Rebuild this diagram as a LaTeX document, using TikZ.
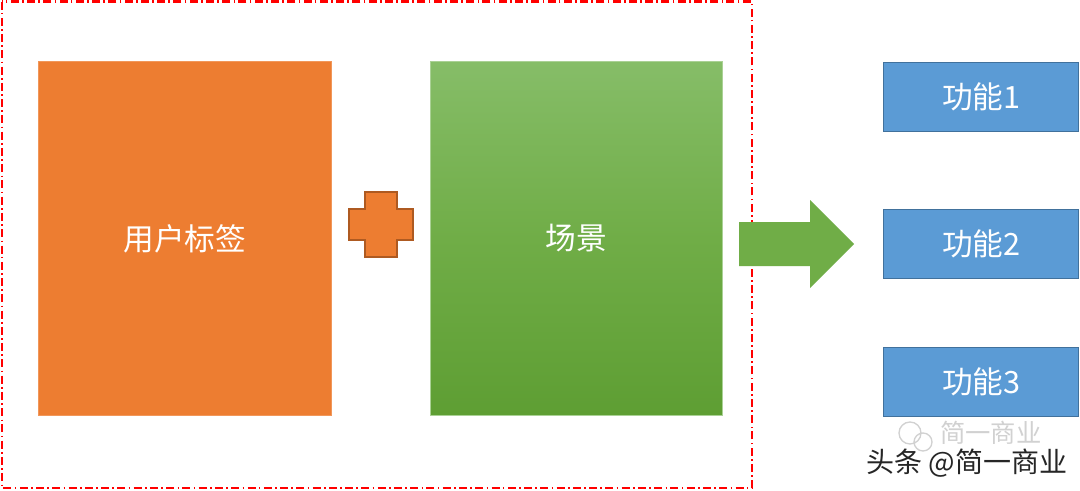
\documentclass[tikz,border=0pt]{standalone}
\usepackage{fontspec}
\newfontfamily\cjk{Noto Sans CJK SC}
\definecolor{orangeF}{HTML}{ED7D31}
\definecolor{orangeD}{HTML}{AE5A21}
\definecolor{greenT}{HTML}{86BD68}
\definecolor{greenM}{HTML}{70AD47}
\definecolor{greenB}{HTML}{5E9E33}
\definecolor{blueF}{HTML}{5B9BD5}
\definecolor{blueD}{HTML}{41719C}
\definecolor{redL}{HTML}{FF0000}
\begin{document}
\begin{tikzpicture}[x=0.75pt,y=-0.75pt,
  lbl/.style={font=\cjk\fontsize{23}{26}\selectfont, text=white},
  fbox/.style={fill=blueF, draw=blueD, line width=1pt, minimum width=146.25pt, minimum height=51.75pt, lbl, anchor=north west, inner sep=0pt}]
\useasboundingbox (0,0) rectangle (1080,490);
\fill[white] (0,0) rectangle (1080,490);
% dashed frame
\draw[redL, line width=1.8pt, dash pattern=on 6pt off 2.5pt on 1.2pt off 2.5pt] (2,1.5) rectangle (752,488);
% orange block
\node[fill=orangeF, draw=orangeF!80!white, line width=0.6pt, minimum width=219.75pt, minimum height=265.5pt, anchor=north west, inner sep=0pt, lbl] (tags) at (38,61) {用户标签};
% green block
\node[top color=greenT, bottom color=greenB, middle color=greenM, draw=greenT!70!white, line width=0.6pt, minimum width=219pt, minimum height=265.5pt, anchor=north west, inner sep=0pt, lbl] (scene) at (430,61) {场景};
% plus
\coordinate (pc) at (381,224.5);
\draw[fill=orangeF, draw=orangeD, line width=1pt]
  (365,192) -- (397,192) -- (397,209) -- (413,209) -- (413,240) -- (397,240) -- (397,257) -- (365,257) -- (365,240) -- (349,240) -- (349,209) -- (365,209) -- cycle;
% arrow
\coordinate (atip) at (854,244);
\fill[greenM] (739,222) -- (810,222) -- (810,200) -- (atip) -- (810,288) -- (810,266) -- (739,266) -- cycle;
% function boxes
\node[fbox] (f1) at (883,62) {功能1};
\node[fbox] (f2) at (883,209) {功能2};
\node[fbox] (f3) at (883,347) {功能3};
% watermark
\node[font=\cjk\fontsize{19}{21}\selectfont, text=black!18, anchor=west, inner sep=0pt] (wm1) at (940,433) {简一商业};
\draw[black!18, line width=1pt] (910,433) circle (11) (923,442) circle (9);
\node[font=\cjk\fontsize{21}{24}\selectfont, text=black!85, anchor=west, inner sep=0pt] (wm2) at (866,463) {头条 @简一商业};
\end{tikzpicture}
\end{document}
